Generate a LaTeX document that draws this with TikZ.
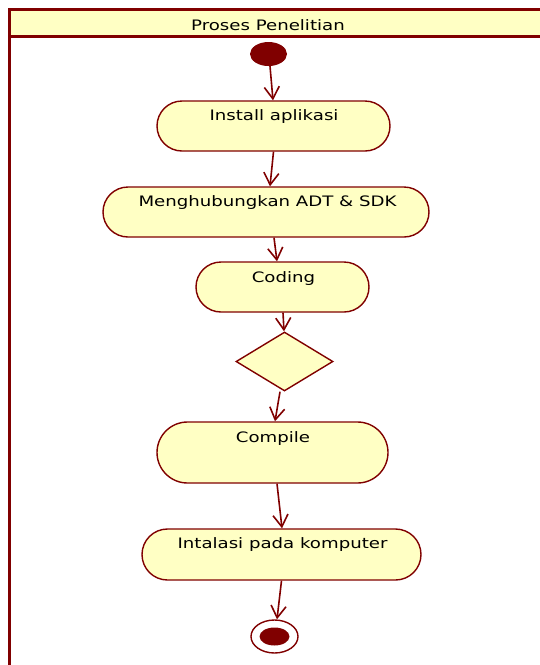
\documentclass[tikz,border=0pt]{standalone}
\usepackage{fontspec}
\newfontfamily\lanefont[FakeStretch=1.26]{DejaVu Sans}
\usetikzlibrary{arrows.meta,shapes.misc,shapes.geometric,calc}
\definecolor{umlred}{HTML}{800000}
\definecolor{umlfill}{HTML}{FFFFC4}

\begin{document}
\begin{tikzpicture}[x=1pt,y=-1pt,
  act/.style={rounded rectangle, draw=umlred, fill=umlfill, line width=1.4pt, inner sep=0pt},
  decision/.style={diamond, draw=umlred, fill=umlfill, line width=1.4pt, inner sep=0pt},
  lbl/.style={font=\lanefont\fontsize{14.4}{16}\selectfont, anchor=base, inner sep=0pt},
  flow/.style={draw=umlred, line width=1.6pt, -{Straight Barb[length=12pt,width=15pt,line width=1.6pt]}},
]
\useasboundingbox (0,0) rectangle (540,665);
\clip (0,0) rectangle (540,665);

% swimlane with its header
\fill[white] (0,0) rectangle (540,665);
\filldraw[fill=umlfill, draw=umlred, line width=2.6pt] (9.5,9.5) rectangle (600,36.3);
\draw[umlred, line width=3pt] (9.5,9.5) -- (9.5,700);
\node[lbl] (lane) at (268,30) {Proses Penelitian};

% initial node
\node[ellipse, fill=umlred, minimum width=37pt, minimum height=24pt, inner sep=0pt] (start) at (268.5,54) {};

% activities
\node[act, minimum width=233pt, minimum height=50pt] (install) at (273.5,126) {};
\node[lbl] (installtxt) at ($(install.north)+(0.5,20)$) {Install aplikasi};

\node[act, minimum width=326pt, minimum height=50pt] (connect) at (266,212) {};
\node[lbl] (connecttxt) at ($(connect.north)+(1.5,20)$) {Menghubungkan ADT \& SDK};

\node[act, minimum width=173pt, minimum height=50pt] (coding) at (282.5,287) {};
\node[lbl] (codingtxt) at ($(coding.north)+(1,21)$) {Coding};

\node[decision, minimum width=97pt, minimum height=59pt] (check) at (284.5,361.5) {};

\node[act, minimum width=231pt, minimum height=61pt] (compile) at (272.5,452.5) {};
\node[lbl] (compiletxt) at ($(compile.north)+(0.5,20.7)$) {Compile};

\node[act, minimum width=279pt, minimum height=51pt] (deploy) at (281.5,554.5) {};
\node[lbl] (deploytxt) at ($(deploy.north)+(1,20)$) {Intalasi pada komputer};

% final node
\node[ellipse, draw=umlred, fill=white, line width=1.4pt, minimum width=47pt, minimum height=33pt, inner sep=0pt] (finish) at (274.5,636.5) {};
\node[ellipse, fill=umlred, minimum width=30pt, minimum height=18pt, inner sep=0pt] (finishdot) at (finish.center) {};

% control flow
\draw[flow] ([xshift=1.5pt]start.south) -- ([xshift=-0.5pt]install.north);
\draw[flow] (install.south) -- ([xshift=4pt]connect.north);
\draw[flow] ([xshift=8pt]connect.south) -- ([xshift=-5.5pt]coding.north);
\draw[flow] ([xshift=0.5pt]coding.south) -- ([xshift=-0.5pt]check.north);
\draw[flow] ([xshift=-4.5pt]check.south) -- ([xshift=2.5pt]compile.north);
\draw[flow] ([xshift=4.5pt]compile.south) -- ([xshift=0.5pt]deploy.north);
\draw[flow] (deploy.south) -- ([xshift=2.5pt]finish.north);
\end{tikzpicture}
\end{document}
